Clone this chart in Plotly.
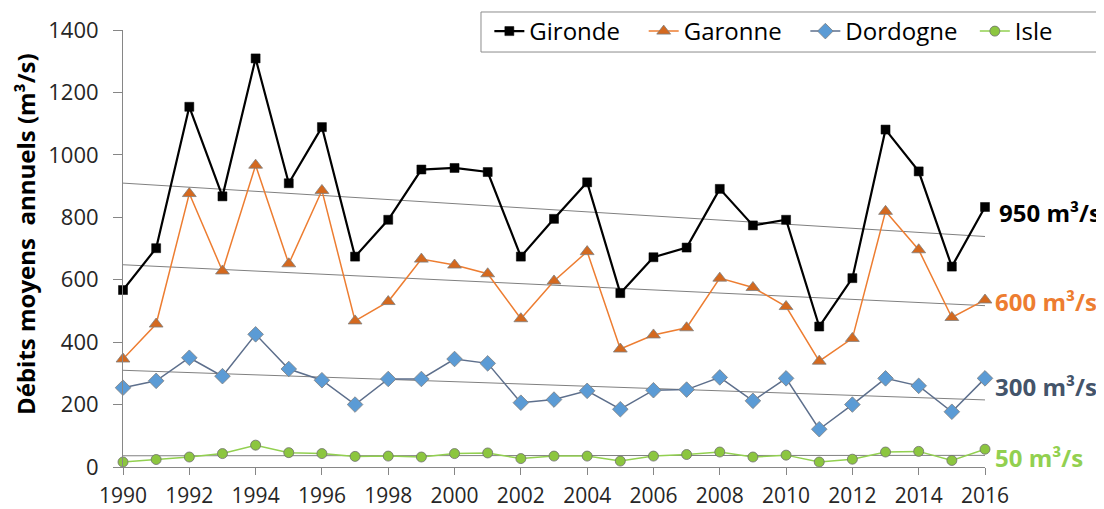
import numpy as np
import plotly.graph_objects as go

years = list(range(1990, 2017))
gironde = [567, 701, 1154, 867, 1309, 909, 1089, 674, 792, 953, 958, 945, 674, 795,
           912, 557, 672, 703, 891, 774, 792, 450, 605, 1081, 947, 642, 833]
garonne = [346, 458, 876, 628, 967, 651, 886, 468, 530, 666, 647, 619, 475, 596,
           690, 378, 423, 446, 605, 575, 514, 339, 412, 819, 696, 479, 535]
dordogne = [254, 276, 350, 291, 425, 314, 278, 200, 282, 282, 346, 332, 206, 216,
            244, 185, 246, 248, 287, 212, 284, 121, 200, 284, 260, 177, 284]
isle = [16, 24, 32, 43, 70, 46, 43, 34, 35, 32, 43, 45, 27, 35,
        35, 19, 35, 40, 48, 32, 38, 16, 25, 48, 50, 21, 57]

series_names = ["Gironde", "Garonne", "Dordogne", "Isle"]
series_values = [gironde, garonne, dordogne, isle]
label_texts = ["950 m³/s", "600 m³/s", "300 m³/s", "50 m³/s"]
x_ticks = list(range(1990, 2017, 2))
y_ticks = [0, 200, 400, 600, 800, 1000, 1200, 1400]

styles = {
    "Gironde": dict(line=dict(color="#000000", width=2.2),
                    marker=dict(symbol="square", size=9, color="#000000",
                                line=dict(color="#000000", width=0.5))),
    "Garonne": dict(line=dict(color="#ED7D31", width=1.5),
                    marker=dict(symbol="triangle-up", size=12, color="#D4691F",
                                line=dict(color="#7F7F7F", width=0.8))),
    "Dordogne": dict(line=dict(color="#5D6F8C", width=1.5),
                     marker=dict(symbol="diamond", size=12, color="#5B9BD5",
                                 line=dict(color="#7F7F7F", width=0.8))),
    "Isle": dict(line=dict(color="#92D050", width=1.5),
                 marker=dict(symbol="circle", size=10, color="#8CC63F",
                             line=dict(color="#6F6F6F", width=0.8))),
}
# legend spacing padding (non-breaking spaces) to mimic the original spacing
legend_pad = {"Gironde": 3, "Garonne": 3, "Dordogne": 2, "Isle": 0}
label_colors = ["#000000", "#ED7D31", "#44546A", "#92D050"]

fig = go.Figure()
x = np.array(years, dtype=float)

# linear trend lines (as in the original chart)
for vals in series_values:
    a, b = np.polyfit(x, np.array(vals, dtype=float), 1)
    fig.add_trace(go.Scatter(x=[x[0], x[-1]], y=[a * x[0] + b, a * x[-1] + b],
                             mode="lines", line=dict(color="#808080", width=1),
                             showlegend=False, hoverinfo="skip"))

for name, vals in zip(series_names, series_values):
    fig.add_trace(go.Scatter(x=years, y=vals, mode="lines+markers",
                             name=name + "\u00a0" * legend_pad[name],
                             cliponaxis=False, **styles[name]))

# right-side labels
label_y = [815, 530, 257, 32]
label_x = [1.0139, 1.0093, 1.0093, 1.0093]
for txt, col, yy, xx in zip(label_texts, label_colors, label_y, label_x):
    fig.add_annotation(text=f"<b>{txt}</b>", x=xx, y=yy, xref="paper", yref="y",
                       xanchor="left", yanchor="middle", showarrow=False,
                       font=dict(family="Open Sans", size=24, color=col))

fig.add_annotation(text="<b>Débits moyens  annuels (m³/s)</b>", textangle=-90,
                   x=-0.1137, y=0.533, xref="paper", yref="paper",
                   xanchor="center", yanchor="middle", showarrow=False,
                   font=dict(family="Open Sans", size=24, color="#000000"))

# legend frame
fig.add_shape(type="rect", xref="paper", yref="paper",
              x0=0.4153, x1=1.1299, y0=0.9496, y1=1.0412,
              line=dict(color="#8C8C8C", width=1), fillcolor="rgba(0,0,0,0)",
              layer="above")

axis_common = dict(showgrid=False, zeroline=False, showline=True, automargin=False,
                   linecolor="#868686", linewidth=1, ticks="outside",
                   tickcolor="#868686")
fig.update_xaxes(range=[1990, 2016], tickvals=x_ticks, ticklen=7,
                 ticklabelstandoff=3,
                 tickfont=dict(family="Open Sans", size=21, color="#262626"),
                 **axis_common)
fig.update_yaxes(range=[0, 1400], tickvals=y_ticks, ticklen=9,
                 ticklabelstandoff=10,
                 tickfont=dict(family="Open Sans", size=22, color="#262626"),
                 **axis_common)

# page body has an 8px margin; figure sized so it fills the 1104x509 window
fig.update_layout(
    width=1096, height=501,
    margin=dict(l=115, r=119, t=22, b=42, autoexpand=False),
    plot_bgcolor="white", paper_bgcolor="white",
    font=dict(family="Open Sans"),
    legend=dict(orientation="h", x=0.425, y=1.048, xanchor="left", yanchor="top",
                borderwidth=0, bgcolor="rgba(255,255,255,0)",
                font=dict(family="Open Sans", size=24, color="#000000")),
)

fig.write_html("out.html")
